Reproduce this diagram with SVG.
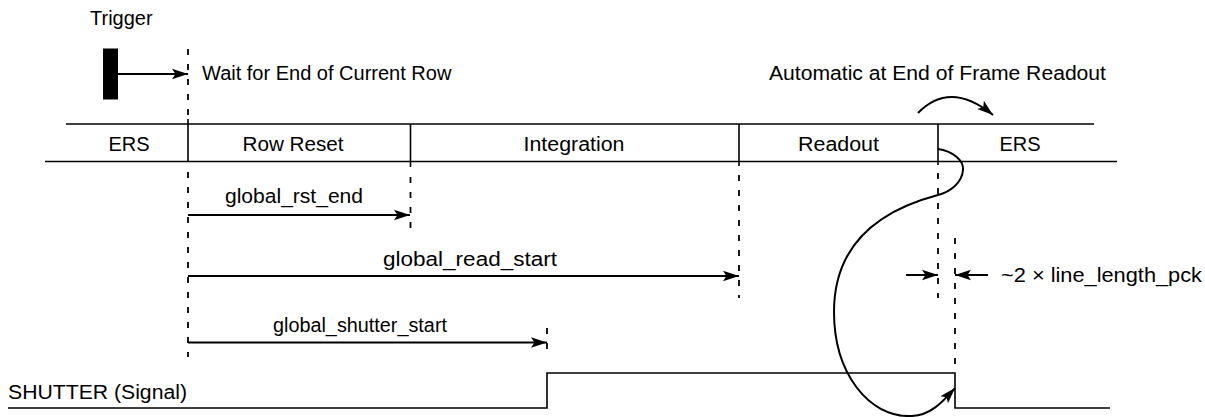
<svg xmlns="http://www.w3.org/2000/svg" width="1205" height="417" viewBox="0 0 1205 417">
<style>
text { font-family: "Liberation Sans", Arial, sans-serif; font-size: 20px; fill: #000; }
.c { text-anchor: middle; }
.ln { stroke: #000; stroke-width: 1.6; fill: none; }
.dash { stroke: #000; stroke-width: 1.8; fill: none; stroke-dasharray: 6 9; }
.arr { stroke: #000; stroke-width: 2; fill: none; marker-end: url(#ah); }
</style>
<defs>
<marker id="ah" markerUnits="userSpaceOnUse" markerWidth="17" markerHeight="12" viewBox="0 0 17 12" refX="16" refY="6" orient="auto">
<path d="M0,0.8 L16,6 L0,11.2 L3.5,6 Z" fill="#000"/>
</marker>
</defs>

<g id="trigger">
<text x="90" y="25">Trigger</text>
<rect x="103" y="48.5" width="15" height="51" fill="#000"/>
</g>
<g id="wait-label"><text x="202" y="80">Wait for End of Current Row</text></g>
<g id="auto-label"><text x="769" y="80" textLength="337" lengthAdjust="spacingAndGlyphs">Automatic at End of Frame Readout</text></g>

<g id="band">
<line class="ln" x1="66" y1="124" x2="1094" y2="124"/>
<line class="ln" x1="45" y1="161.5" x2="1117" y2="161.5"/>
<line class="ln" x1="188" y1="119" x2="188" y2="161.5"/>
<line class="ln" x1="410.5" y1="124" x2="410.5" y2="167"/>
<line class="ln" x1="739" y1="124" x2="739" y2="166"/>
<line class="ln" x1="938" y1="124" x2="938" y2="165"/>
</g>
<g id="ers1"><text class="c" x="129" y="151">ERS</text></g>
<g id="rowreset"><text class="c" x="293" y="151" textLength="101" lengthAdjust="spacingAndGlyphs">Row Reset</text></g>
<g id="integration"><text class="c" x="574" y="151" textLength="101" lengthAdjust="spacingAndGlyphs">Integration</text></g>
<g id="readout"><text class="c" x="838.5" y="151" textLength="81" lengthAdjust="spacingAndGlyphs">Readout</text></g>
<g id="ers2"><text class="c" x="1020" y="151">ERS</text></g>

<g id="rst-label"><text class="c" x="294" y="203" textLength="138" lengthAdjust="spacingAndGlyphs">global_rst_end</text></g>
<g id="read-label"><text class="c" x="470" y="266" textLength="174" lengthAdjust="spacingAndGlyphs">global_read_start</text></g>
<g id="shutter-label"><text class="c" x="360" y="332" textLength="174" lengthAdjust="spacingAndGlyphs">global_shutter_start</text></g>
<g id="line-length-label"><text x="1001" y="282" textLength="201" lengthAdjust="spacingAndGlyphs">~2 × line_length_pck</text></g>
<g id="shutter-signal">
<text x="8" y="399" textLength="179" lengthAdjust="spacingAndGlyphs">SHUTTER (Signal)</text>
<polyline class="ln" points="8,408 547,408 547,373 955,373 955,408 1110,408"/>
</g>

<g id="connectors">
<line class="dash" x1="188" y1="49" x2="188" y2="118"/>
<line class="dash" x1="188" y1="172" x2="188" y2="357"/>
<line class="dash" x1="410.5" y1="177" x2="410.5" y2="232"/>
<line class="dash" x1="739" y1="175" x2="739" y2="298"/>
<line class="dash" x1="938" y1="173" x2="938" y2="298"/>
<line class="dash" x1="955" y1="238" x2="955" y2="372"/>
<line class="dash" x1="547" y1="328" x2="547" y2="358"/>
<line class="arr" x1="118" y1="74" x2="188" y2="74"/>
<line class="arr" x1="188" y1="215" x2="410" y2="215"/>
<line class="arr" x1="188" y1="276" x2="739" y2="276"/>
<line class="arr" x1="188" y1="342.5" x2="547" y2="342.5"/>
<line class="arr" x1="906" y1="275" x2="938" y2="275"/>
<line class="arr" x1="988" y1="275" x2="955" y2="275"/>
<path class="arr" d="M918,113 Q950,80 993,115"/>
<path class="arr" d="M938,149 C952,151 964,160 963,170 C962,183 950,192 938,195 C885,209 834,240 834,312 C834,372 868,418 912,416 C932,415 944,400 955,388"/>
</g>
</svg>
